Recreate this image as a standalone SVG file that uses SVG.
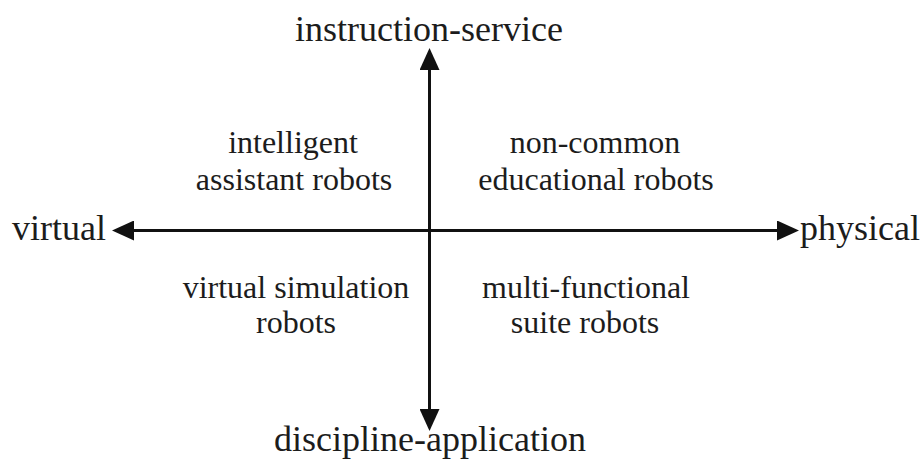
<svg xmlns="http://www.w3.org/2000/svg" width="922" height="466" viewBox="0 0 922 466">
  <defs>
    <style>
      .axis { font-family: "Liberation Serif", "Times New Roman", serif; font-size: 36px; fill: #1c1c1c; }
      .quad { font-family: "Liberation Serif", "Times New Roman", serif; font-size: 32px; fill: #1c1c1c; text-anchor: middle; }
      .line { stroke: #111; stroke-width: 3; fill: none; }
    </style>
    <marker id="arrow" viewBox="0 0 22 20" markerUnits="userSpaceOnUse" markerWidth="22" markerHeight="20" refX="4" refY="10" orient="auto-start-reverse">
      <path d="M0,0 L22,10 L0,20 z" fill="#111"/>
    </marker>
  </defs>
  <rect width="922" height="466" fill="#ffffff"/>
  <g id="connectors">
    <line class="line" x1="429.5" y1="66" x2="429.5" y2="413" marker-start="url(#arrow)" marker-end="url(#arrow)"/>
    <line class="line" x1="130" y1="230.5" x2="781" y2="230.5" marker-start="url(#arrow)" marker-end="url(#arrow)"/>
  </g>
  <g id="instruction-service"><text class="axis" x="429" y="41" text-anchor="middle">instruction-service</text></g>
  <g id="discipline-application"><text class="axis" x="430" y="451" text-anchor="middle">discipline-application</text></g>
  <g id="virtual"><text class="axis" x="106" y="240" text-anchor="end">virtual</text></g>
  <g id="physical"><text class="axis" x="800" y="240" text-anchor="start">physical</text></g>
  <g id="intelligent-assistant-robots">
    <text class="quad" x="293" y="153">intelligent</text>
    <text class="quad" x="294" y="190">assistant robots</text>
  </g>
  <g id="non-common-educational-robots">
    <text class="quad" x="595" y="153">non-common</text>
    <text class="quad" x="596" y="190">educational robots</text>
  </g>
  <g id="virtual-simulation-robots">
    <text class="quad" x="296" y="298">virtual simulation</text>
    <text class="quad" x="296" y="333">robots</text>
  </g>
  <g id="multi-functional-suite-robots">
    <text class="quad" x="586" y="298">multi-functional</text>
    <text class="quad" x="585" y="333">suite robots</text>
  </g>
</svg>
